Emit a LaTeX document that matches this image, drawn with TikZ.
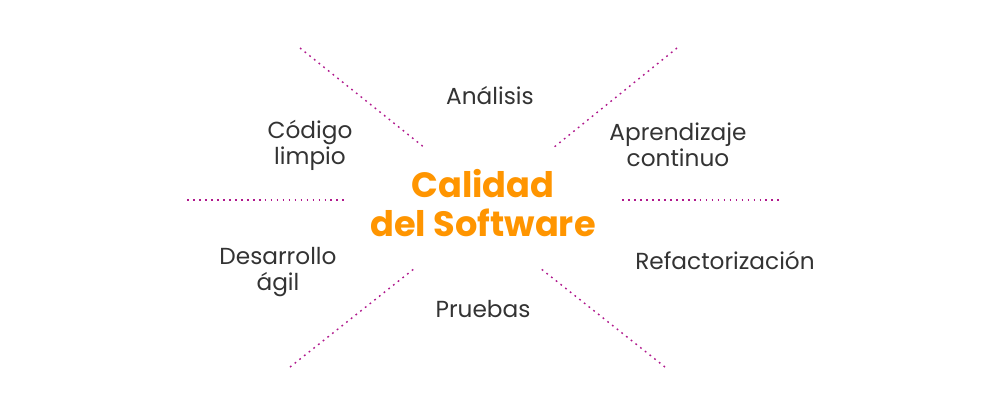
\documentclass[tikz,border=0pt]{standalone}
\usepackage{fontspec}
\setmainfont{Poppins}
\definecolor{mag}{HTML}{B0188C}
\definecolor{org}{HTML}{FF9500}
\definecolor{txt}{HTML}{333333}
\begin{document}
\begin{tikzpicture}[x=0.01cm,y=-0.01cm,
  dl/.style={mag,line width=0.4pt,dash pattern=on 0.5pt off 1.2pt},
  lbl/.style={txt,font=\fontsize{6.6}{7.4}\selectfont,align=center,inner sep=0},
  ttl/.style={org,font=\bfseries\fontsize{10}{11.3}\selectfont,align=center,inner sep=0}]
\useasboundingbox (0,0) rectangle (1000,417);
\coordinate (a1) at (300,48); \coordinate (a2) at (425,148);
\coordinate (b1) at (677,48); \coordinate (b2) at (553,148);
\coordinate (c1) at (187,200); \coordinate (c2) at (347,200);
\coordinate (d1) at (622,200); \coordinate (d2) at (782,200);
\coordinate (e1) at (290,367); \coordinate (e2) at (415,268);
\coordinate (f1) at (665,367); \coordinate (f2) at (540,268);
\foreach \p in {a,b,c,d,e,f} \draw[dl] (\p1) -- (\p2);
\node[ttl] (t) at (483,203) {Calidad\\del Software};
\node[lbl] (n1) at (490,96) {Análisis};
\node[lbl] (n2) at (310,145) {Código\\limpio};
\node[lbl] (n3) at (678,145) {Aprendizaje\\continuo};
\node[lbl] (n4) at (278,272) {Desarrollo\\ágil};
\node[lbl] (n5) at (483,309) {Pruebas};
\node[lbl] (n6) at (725,260) {Refactorización};
\end{tikzpicture}
\end{document}
